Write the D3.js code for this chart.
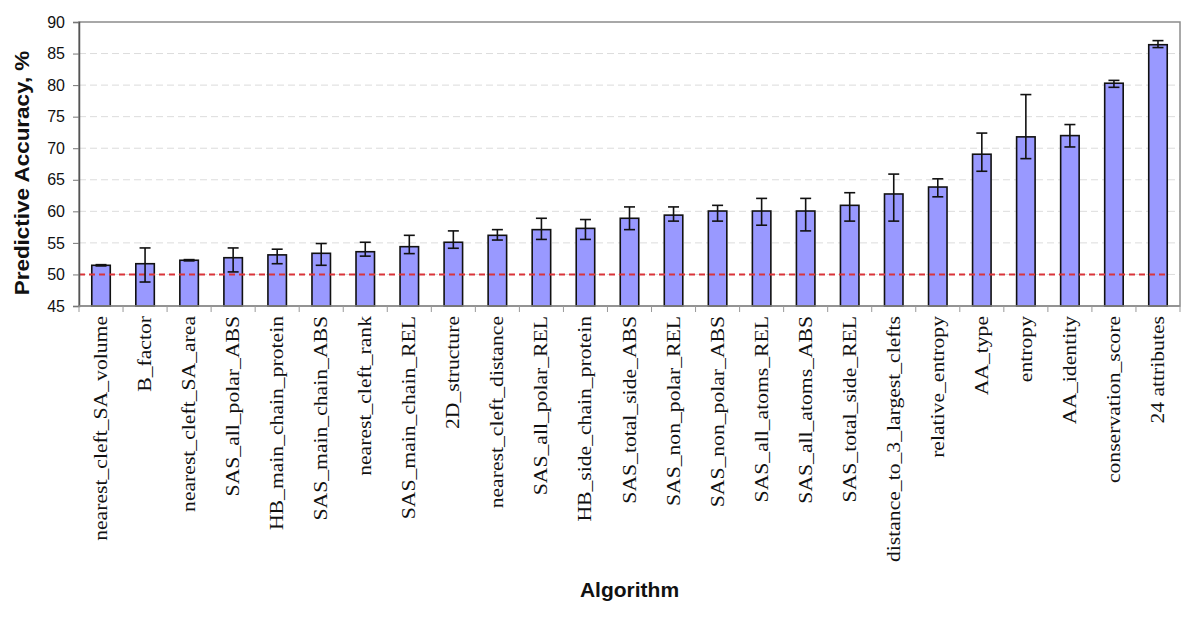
<!DOCTYPE html>
<html>
<head>
<meta charset="utf-8">
<script src="https://cdn.jsdelivr.net/npm/d3@7/dist/d3.min.js"></script>
<style>
  html, body { margin: 0; padding: 0; background: #fff; }
  svg { display: block; }
</style>
</head>
<body>
<svg id="chart" width="1200" height="617"></svg>
<script>
// ---- Data ----
const categories = [
  "nearest_cleft_SA_volume", "B_factor", "nearest_cleft_SA_area", "SAS_all_polar_ABS",
  "HB_main_chain_protein", "SAS_main_chain_ABS", "nearest_cleft_rank", "SAS_main_chain_REL",
  "2D_structure", "nearest_cleft_distance", "SAS_all_polar_REL", "HB_side_chain_protein",
  "SAS_total_side_ABS", "SAS_non_polar_REL", "SAS_non_polar_ABS", "SAS_all_atoms_REL",
  "SAS_all_atoms_ABS", "SAS_total_side_REL", "distance_to_3_largest_clefts", "relative_entropy",
  "AA_type", "entropy", "AA_identity", "conservation_score", "24 attributes"
];
const accuracy = [
  51.45, 51.7, 52.25, 52.65, 53.1, 53.35, 53.6, 54.4,
  55.1, 56.2, 57.1, 57.3, 58.9, 59.4, 60.05, 60.05,
  60.05, 60.95, 62.75, 63.85, 69.05, 71.8, 72.0, 80.3, 86.4
];
const errorLow = [
  51.35, 48.8, 52.15, 50.4, 51.7, 51.45, 52.9, 53.3,
  54.15, 55.45, 55.55, 55.55, 57.1, 58.45, 58.45, 57.8,
  56.9, 58.45, 58.45, 62.3, 66.35, 68.35, 70.2, 79.65, 85.95
];
const errorHigh = [
  51.55, 54.2, 52.35, 54.2, 54.0, 54.9, 55.1, 56.2,
  56.9, 57.1, 58.9, 58.7, 60.7, 60.7, 60.95, 62.05,
  62.05, 62.95, 65.9, 65.15, 72.4, 78.5, 73.75, 80.75, 87.05
];
const yTicks = [45, 50, 55, 60, 65, 70, 75, 80, 85, 90];
const gridValues = [50, 55, 60, 65, 70, 75, 80, 85];
const baselineValue = 50;
const yDomain = [45, 90];
const yTitle = "Predictive Accuracy, %";
const xTitle = "Algorithm";

// ---- Layout ----
const W = 1200, H = 617;
const margin = { top: 22, right: 20, bottom: 311, left: 79 };
const iw = W - margin.left - margin.right;
const ih = H - margin.top - margin.bottom;

const svg = d3.select("#chart");
const g = svg.append("g").attr("transform", `translate(${margin.left},${margin.top})`);

const x = d3.scaleBand().domain(categories).range([0, iw]).padding(0);
const y = d3.scaleLinear().domain(yDomain).range([ih, 0]);
const barW = x.bandwidth() * 0.42;
const cx = d => x(d) + x.bandwidth() / 2;

// gridlines
g.append("g").selectAll("line").data(gridValues).join("line")
  .attr("x1", 0).attr("x2", iw)
  .attr("y1", d => y(d)).attr("y2", d => y(d))
  .attr("stroke", "#dcdcdc").attr("stroke-width", 1)
  .attr("stroke-dasharray", "7,4");

// frame (top & right)
g.append("rect").attr("x", 0).attr("y", 0).attr("width", iw).attr("height", ih)
  .attr("fill", "none").attr("stroke", "#8c8c8c").attr("stroke-width", 1.5);

// bars
g.append("g").selectAll("rect").data(categories).join("rect")
  .attr("x", d => cx(d) - barW / 2)
  .attr("y", (d, i) => y(accuracy[i]))
  .attr("width", barW)
  .attr("height", (d, i) => y(yDomain[0]) - y(accuracy[i]))
  .attr("fill", "#9999ff")
  .attr("stroke", "#111").attr("stroke-width", 1.6);

// baseline (red dashed)
const lastCat = categories[categories.length - 1];
g.append("line")
  .attr("x1", 0).attr("x2", x(lastCat) + x.bandwidth() * 0.7)
  .attr("y1", y(baselineValue)).attr("y2", y(baselineValue))
  .attr("stroke", "#d9343a").attr("stroke-width", 2)
  .attr("stroke-dasharray", "6,4");

// error bars
const cap = 5.5;
const eb = g.append("g").attr("stroke", "#111").attr("stroke-width", 1.6);
categories.forEach((d, i) => {
  const c = cx(d);
  eb.append("line").attr("x1", c).attr("x2", c).attr("y1", y(errorLow[i])).attr("y2", y(errorHigh[i]));
  eb.append("line").attr("x1", c - cap).attr("x2", c + cap).attr("y1", y(errorLow[i])).attr("y2", y(errorLow[i]));
  eb.append("line").attr("x1", c - cap).attr("x2", c + cap).attr("y1", y(errorHigh[i])).attr("y2", y(errorHigh[i]));
});

// y axis
const yAxis = g.append("g").call(d3.axisLeft(y).tickValues(yTicks).tickSize(6).tickPadding(8).tickFormat(d3.format("d")));
yAxis.select(".domain").attr("stroke", "#555").attr("stroke-width", 1.5);
yAxis.selectAll(".tick line").attr("stroke", "#777");
yAxis.selectAll("text").attr("font-family", "Liberation Sans, Arial, sans-serif")
  .attr("font-size", 16).attr("fill", "#111");

// x axis (ticks at category boundaries)
const xb = g.append("g").attr("transform", `translate(0,${ih})`);
xb.append("line").attr("x1", 0).attr("x2", iw).attr("stroke", "#8c8c8c").attr("stroke-width", 1.5);
xb.selectAll("line.tk").data(categories.concat(["__end"])).join("line").attr("class", "tk")
  .attr("x1", (d, i) => i < categories.length ? x(d) : iw)
  .attr("x2", (d, i) => i < categories.length ? x(d) : iw)
  .attr("y1", 0).attr("y2", 6)
  .attr("stroke", "#999").attr("stroke-width", 1);
xb.selectAll("text").data(categories).join("text")
  .attr("transform", d => `translate(${cx(d) + 6},10) rotate(-90) scale(1.14,1)`)
  .attr("text-anchor", "end")
  .attr("font-family", "Liberation Serif, Times New Roman, serif")
  .attr("font-size", 19).attr("fill", "#111")
  .text(d => d);

// titles
svg.append("text")
  .attr("transform", `translate(29,${margin.top + ih / 2 + 9}) rotate(-90) scale(1.07,1)`)
  .attr("text-anchor", "middle")
  .attr("font-family", "Liberation Sans, Arial, sans-serif")
  .attr("font-weight", "bold").attr("font-size", 21).attr("fill", "#111")
  .text(yTitle);
svg.append("text")
  .attr("x", margin.left + iw / 2).attr("y", 597)
  .attr("text-anchor", "middle")
  .attr("font-family", "Liberation Sans, Arial, sans-serif")
  .attr("font-weight", "bold").attr("font-size", 21).attr("fill", "#111")
  .text(xTitle);
</script>
</body>
</html>
